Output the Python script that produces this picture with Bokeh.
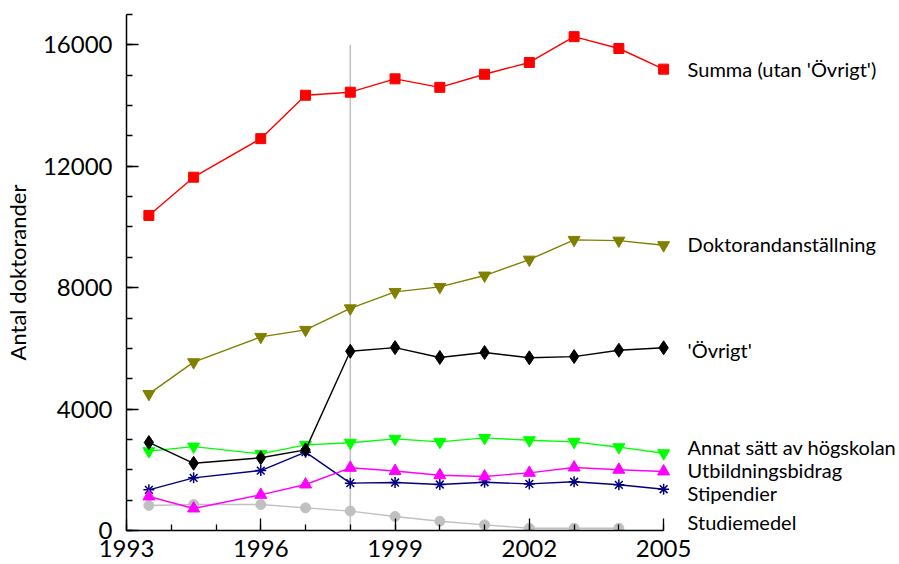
from bokeh.plotting import figure
from bokeh.models import FixedTicker, ColumnDataSource, Range1d
from bokeh.core.properties import value
from bokeh.embed import file_html
from bokeh.resources import INLINE

years = [1993.5, 1994.5, 1996, 1997, 1998, 1999, 2000, 2001, 2002, 2003, 2004, 2005]

summa = [10380, 11640, 12910, 14340, 14440, 14880, 14600, 15030, 15420, 16270, 15880, 15200]
doktorand = [4500, 5545, 6380, 6610, 7320, 7860, 8025, 8400, 8925, 9575, 9550, 9400]
ovrigt = [2900, 2215, 2395, 2655, 5905, 6025, 5700, 5865, 5690, 5730, 5940, 6020]
annat = [2615, 2765, 2525, 2820, 2890, 3020, 2920, 3050, 2975, 2920, 2745, 2545]
utbildning = [1120, 725, 1175, 1515, 2065, 1960, 1820, 1780, 1900, 2075, 2000, 1945]
stipendier = [1340, 1735, 1975, 2580, 1560, 1580, 1515, 1590, 1535, 1605, 1505, 1360]
studiemedel_years = [1993.5, 1994.5, 1996, 1997, 1998, 1999, 2000, 2001, 2002, 2003, 2004]
studiemedel = [825, 855, 855, 745, 640, 460, 305, 185, 75, 75, 75]

ref_year = [1998]
ref_top = [16000]

x_ticks = [1993, 1996, 1999, 2002, 2005]
x_minor = list(range(1993, 2006))
y_ticks = [0, 4000, 8000, 12000, 16000]
y_minor = list(range(0, 17001, 1000))

label_names = ["Summa (utan 'Övrigt')", "Doktorandanställning", "'Övrigt'",
               "Annat sätt av högskolan", "Utbildningsbidrag", "Stipendier", "Studiemedel"]
label_y = [15200, 9450, 5940, 2735, 2000, 1220, 270]
label_x = [2005] * len(label_names)

FONT = "Lato"

# x range extends to the right so the series labels sit inside the frame;
# the x axis itself is bounded to 1993-2005
p = figure(width=899, height=564, x_range=Range1d(1993, 2010.27), y_range=Range1d(0, 17000),
           output_backend="svg", toolbar_location=None,
           min_border_left=126, min_border_right=0, min_border_top=14, min_border_bottom=34)
p.outline_line_color = None
p.xgrid.visible = False
p.ygrid.visible = False
p.background_fill_color = "white"
p.border_fill_color = "white"

for ax in (p.xaxis[0], p.yaxis[0]):
    ax.axis_line_color = "black"
    ax.axis_line_width = 1.5
    ax.major_tick_line_color = "black"
    ax.minor_tick_line_color = "black"
    ax.major_tick_line_width = 1.3
    ax.minor_tick_line_width = 1.3
    ax.major_tick_in = 12
    ax.major_tick_out = 0
    ax.minor_tick_in = 6
    ax.minor_tick_out = 0
    ax.major_label_text_font = FONT
    ax.major_label_text_font_size = "24px"
    ax.major_label_text_color = "black"

xa = p.xaxis[0]
xa.bounds = (1993, 2005)
xa.ticker = FixedTicker(ticks=x_ticks, minor_ticks=x_minor)
xa.major_label_standoff = 9

ya = p.yaxis[0]
ya.bounds = (0, 17000)
ya.ticker = FixedTicker(ticks=y_ticks, minor_ticks=y_minor)
ya.major_label_standoff = 14
ya.axis_label = "Antal doktorander"
ya.axis_label_text_font = FONT
ya.axis_label_text_font_size = "22px"
ya.axis_label_text_font_style = "normal"
ya.axis_label_text_color = "black"
ya.axis_label_standoff = 9

p.segment(x0=ref_year, y0=[0], x1=ref_year, y1=ref_top, line_color="#C0C0C0", line_width=1.5)

lw = 1.4
p.line(studiemedel_years, studiemedel, line_color="#C0C0C0", line_width=lw)
p.scatter(studiemedel_years, studiemedel, marker="circle", size=10, color="#C0C0C0")

p.line(years, stipendier, line_color="#000080", line_width=lw)
p.scatter(years, stipendier, marker="asterisk", size=11, line_color="#000080", line_width=1.5)

p.line(years, utbildning, line_color="#FF00FF", line_width=lw)
p.scatter(years, utbildning, marker="triangle", size=12, color="#FF00FF")

p.line(years, annat, line_color="#00FF00", line_width=lw)
p.scatter(years, annat, marker="inverted_triangle", size=12, color="#00FF00")

p.line(years, ovrigt, line_color="black", line_width=lw)
p.scatter(years, ovrigt, marker="diamond", size=14, color="black")

p.line(years, doktorand, line_color="#808000", line_width=lw)
p.scatter(years, doktorand, marker="inverted_triangle", size=12, color="#808000")

p.line(years, summa, line_color="#FF0000", line_width=lw)
p.scatter(years, summa, marker="square", size=10, color="#FF0000")

src = ColumnDataSource(dict(x=label_x, y=label_y, t=label_names))
p.text(x="x", y="y", text="t", source=src, x_offset=24,
       text_baseline="middle", text_align="left",
       text_font=value(FONT), text_font_size="20px", text_color="black")

open("out.html", "w").write(file_html(p, INLINE))
